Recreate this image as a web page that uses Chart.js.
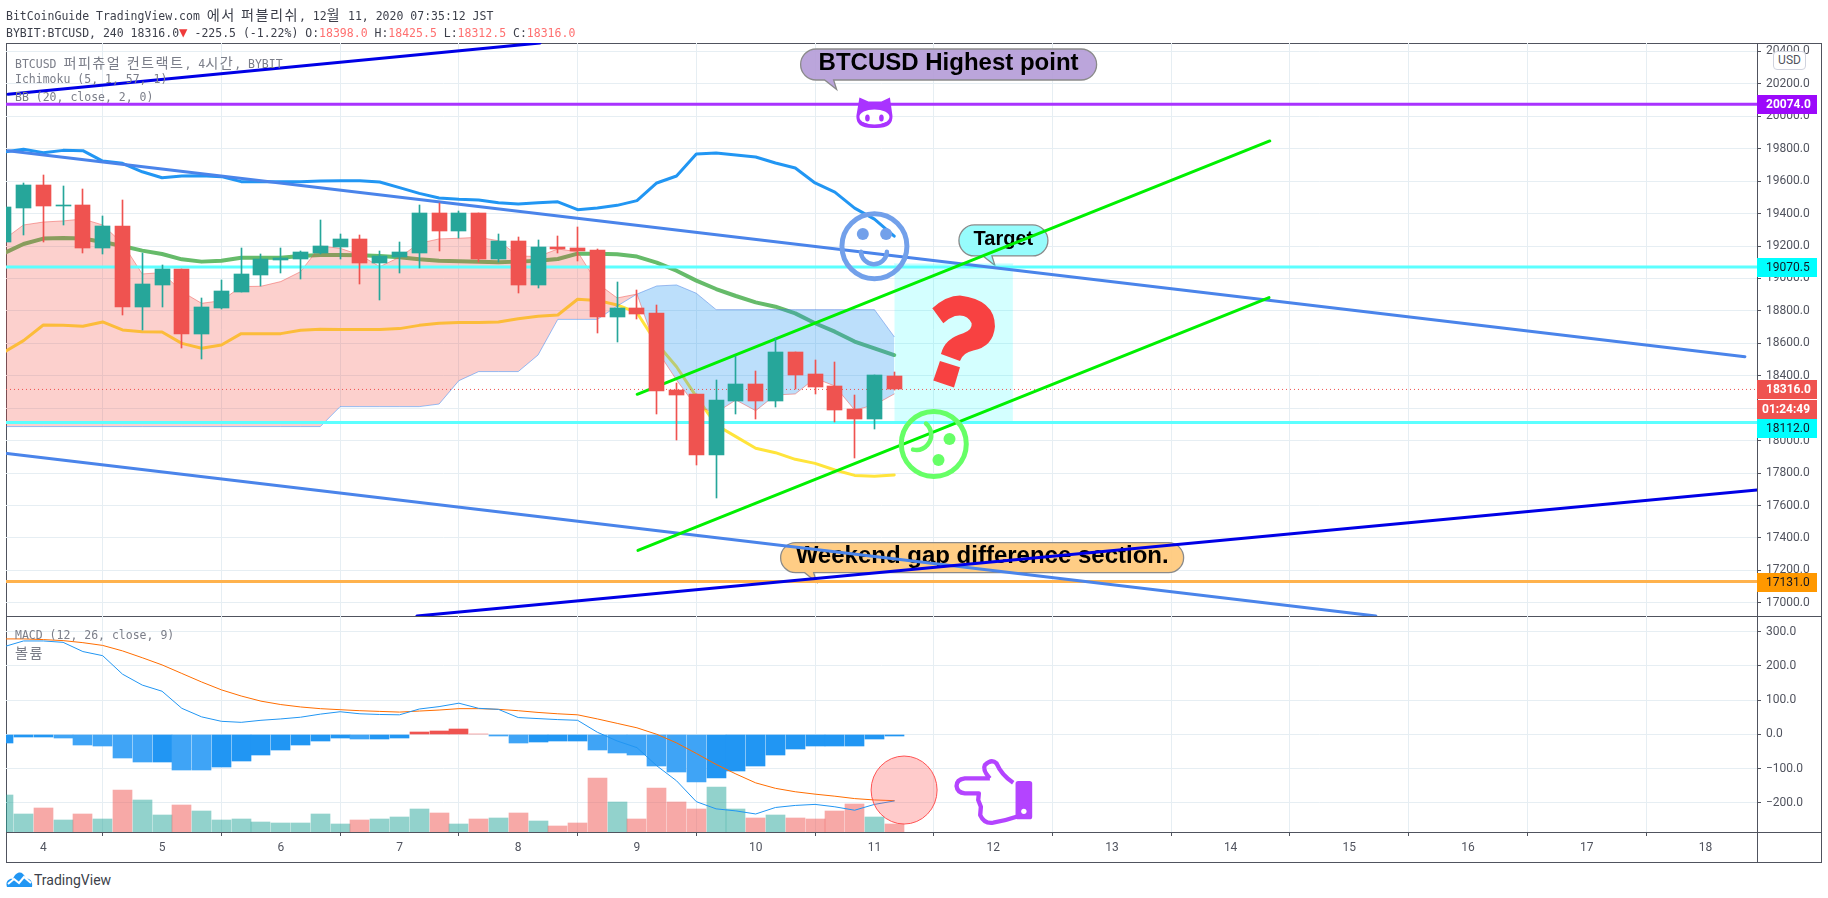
<!DOCTYPE html>
<html lang="ko">
<head>
<meta charset="utf-8">
<title>BTCUSD</title>
<script src="https://cdn.jsdelivr.net/npm/chart.js@4"></script>
<style>
  html, body { margin: 0; padding: 0; background: #fff; width: 1828px; height: 898px; overflow: hidden; }
  canvas { position: absolute; left: 0; }
  #priceCanvas { top: 0; }
  #macdCanvas { top: 616px; }
  .rule { position: absolute; background: #50535e; }
  .mono { position: absolute; font: 11.5px/14px "DejaVu Sans Mono", "Noto Sans CJK KR", monospace; white-space: pre; }
  .kr { font-family: "Noto Sans CJK KR"; font-size: 14.2px; line-height: 14px; letter-spacing: 1.4px; }
  .head { color: #3c3f4a; left: 6px; }
  .leg { color: #7b7e89; left: 15px; }
  .red { color: #ff7070; }
  #usd { position: absolute; left: 1773px; top: 51px; width: 31px; height: 17px; border: 1px solid #d0d3de; border-radius: 4px;
         background: #fff; font: 12px Roboto, sans-serif; color: #50535e; text-align: center; line-height: 17px; }
  #logo { position: absolute; left: 6px; top: 871px; }
  #brand { position: absolute; left: 34px; top: 872px; font: 14px Roboto, sans-serif; color: #3c3f4a; }
</style>
</head>
<body>
<div class="rule" style="left:6px;top:43px;width:1815px;height:1px"></div>
<div class="rule" style="left:6px;top:616px;width:1815px;height:1px"></div>
<div class="rule" style="left:6px;top:832px;width:1815px;height:1px"></div>
<div class="rule" style="left:6px;top:862px;width:1815px;height:1px"></div>
<div class="rule" style="left:6px;top:43px;width:1px;height:820px"></div>
<div class="rule" style="left:1757px;top:43px;width:1px;height:820px"></div>
<div class="rule" style="left:1821px;top:43px;width:1px;height:820px"></div>

<canvas id="priceCanvas" width="1828" height="617"></canvas>
<canvas id="macdCanvas" width="1828" height="250"></canvas>

<div class="mono head" style="top:7px">BitCoinGuide TradingView.com <span class="kr">에서 퍼블리쉬</span>, 12<span class="kr">월</span> 11, 2020 07:35:12 JST</div>
<div class="mono head" style="top:25px">BYBIT:BTCUSD, 240 18316.0<span style="color:#ef3b3b;font-size:14px">▼</span> -225.5 (-1.22%) O:<span class="red">18398.0</span> H:<span class="red">18425.5</span> L:<span class="red">18312.5</span> C:<span class="red">18316.0</span></div>
<div class="mono leg" style="top:55px">BTCUSD <span class="kr">퍼피츄얼 컨트랙트</span>, 4<span class="kr">시간</span>, BYBIT</div>
<div class="mono leg" style="top:72px">Ichimoku (5, 1, 57, 1)</div>
<div class="mono leg" style="top:90px">BB (20, close, 2, 0)</div>
<div class="mono leg" style="top:628px">MACD (12, 26, close, 9)</div>
<div class="mono leg" style="top:645px"><span class="kr">볼륨</span></div>
<div id="usd">USD</div>
<svg id="logo" width="27" height="17" viewBox="0 0 27 17">
  <path d="M1 16 C-1 11 3 7 7 8 C9 2 14 0 17 3 C19 5 20 7 20 8 C24 7 27 11 26 16 Z" fill="#2196f3"/>
  <path d="M2 13 L8 8 L13 12 L18 6 L25 12" fill="none" stroke="#fff" stroke-width="2"/>
</svg>
<div id="brand">TradingView</div>

<script>
// first candle sits two bars left of the "4" tick, one bar = 4 hours
const firstBar = -2;
const barsPerDay = 6;
const dayLabels = [4, 5, 6, 7, 8, 9, 10, 11, 12, 13, 14, 15, 16, 17, 18];

const candleOpen = [19227, 19437, 19577, 19449, 19453, 19190, 19324, 18826, 18960, 19059, 18660, 18820, 18919, 19022, 19116, 19120, 19157, 19194, 19244, 19096, 19135, 19157, 19404, 19295, 19404, 19120, 19231, 18960, 19194, 19188, 19176, 18763, 18818, 18787, 18313, 18288, 17912, 18245, 18350, 18245, 18547, 18411, 18337, 18195, 18134, 18398];
const candleHigh = [19460, 19587, 19638, 19570, 19552, 19385, 19484, 19155, 19083, 19059, 18880, 18991, 19188, 19151, 19188, 19170, 19361, 19274, 19268, 19170, 19225, 19453, 19468, 19416, 19404, 19274, 19254, 19237, 19262, 19317, 19182, 18978, 18929, 18837, 18356, 18288, 18374, 18522, 18430, 18633, 18547, 18498, 18485, 18282, 18405, 18425.5];
const candleLow = [19190, 19268, 19227, 19330, 19159, 19153, 18775, 18683, 18826, 18574, 18506, 18814, 18919, 18954, 19036, 18997, 19151, 19120, 18966, 18868, 19034, 19065, 19170, 19252, 19104, 19104, 18913, 18943, 19159, 19108, 18664, 18609, 18750, 18165, 18004, 17850, 17649, 18165, 18134, 18208, 18319, 18288, 18115, 17893, 18072, 18312.5];
const candleClose = [19441, 19577, 19449, 19452, 19190, 19324, 18826, 18966, 19059, 18660, 18824, 18923, 19028, 19120, 19128, 19163, 19200, 19244, 19096, 19141, 19163, 19404, 19293, 19404, 19120, 19231, 18960, 19194, 19182, 19170, 18763, 18818, 18781, 18306, 18282, 17912, 18251, 18350, 18245, 18547, 18405, 18331, 18189, 18134, 18405, 18316];

const cloudSpanA = [19240, 19330, 19348, 19355, 19367, 19330, 19217, 19028, 19036, 18919, 18847, 18863, 18950, 18952, 18981, 19042, 19200, 19186, 19145, 19073, 19131, 19217, 19244, 19248, 19254, 19233, 19139, 19135, 19182, 19165, 18970, 18880, 18904, 18559, 18374, 18210, 18173, 18251, 18185, 18282, 18288, 18385, 18337, 18189, 18220, 18288];
const cloudSpanB = [18087, 18087, 18087, 18087, 18087, 18087, 18087, 18087, 18087, 18087, 18087, 18087, 18087, 18087, 18087, 18087, 18087, 18210, 18210, 18210, 18210, 18210, 18226, 18370, 18426, 18426, 18426, 18528, 18748, 18748, 18748, 18830, 18904, 18954, 18960, 18909, 18808, 18808, 18808, 18808, 18808, 18808, 18808, 18808, 18808, 18641];

const bbUpper = [19780, 19797, 19776, 19790, 19788, 19724, 19710, 19658, 19621, 19632, 19634, 19628, 19597, 19597, 19597, 19597, 19601, 19603, 19603, 19595, 19560, 19525, 19496, 19488, 19484, 19467, 19459, 19467, 19473, 19424, 19435, 19451, 19480, 19589, 19632, 19768, 19774, 19761, 19749, 19712, 19681, 19589, 19533, 19434, 19366, 19261];
const bbMiddle = [19155, 19213, 19246, 19250, 19246, 19225, 19200, 19172, 19151, 19118, 19104, 19110, 19128, 19128, 19128, 19139, 19145, 19145, 19143, 19139, 19131, 19118, 19110, 19106, 19104, 19100, 19104, 19110, 19120, 19153, 19153, 19149, 19135, 19098, 19048, 18987, 18935, 18892, 18853, 18826, 18785, 18724, 18672, 18611, 18569, 18528];
const bbLower = [18545, 18617, 18713, 18711, 18705, 18732, 18683, 18672, 18670, 18600, 18570, 18590, 18660, 18660, 18660, 18681, 18687, 18685, 18685, 18685, 18691, 18711, 18724, 18728, 18728, 18732, 18752, 18767, 18775, 18872, 18865, 18837, 18789, 18600, 18456, 18272, 18097, 18025, 17953, 17926, 17885, 17860, 17819, 17786, 17780, 17789];

const macdLine = [256, 273, 273, 269, 242, 230, 176, 144, 126, 76, 51, 38, 35, 41, 45, 50, 59, 66, 60, 58, 57, 74, 81, 91, 76, 73, 49, 46, 43, 41, 6, -19.5, -39, -92, -136, -197, -218, -224, -233, -214, -208, -205, -212, -222, -205, -195];
const macdSignal = [279, 279, 277, 274, 268, 260, 244, 224, 203, 178, 153, 130, 112, 97, 87, 80, 75, 72, 69, 67, 65, 68, 71, 75, 75, 73, 69, 64, 60, 57, 45, 32, 19, 0, -25, -56, -88, -116, -142, -158, -168, -175, -181, -188, -192, -194];
const macdHist = [-25, -8, -8, -11, -31, -34, -69, -81, -81, -104, -105, -96, -78, -60, -46, -31, -20, -11, -14, -14, -11, 7, 10, 16, 2, -5, -25, -22, -20, -20, -46, -55, -60, -93, -110, -139, -128, -107, -93, -60, -43, -34, -34, -34, -14, -5];
const volumes = [37, 18, 24, 12, 18, 13, 42, 32, 17, 27, 21, 12, 13, 10, 9, 9, 18, 8, 12, 13, 15, 23, 19, 8, 13, 14, 19, 11, 6, 9, 54, 30, 13, 44, 30, 23, 45, 23, 14, 17, 14, 13, 21, 28, 15, 8];

// hand drawn trend lines, [bar, price] at both ends
const darkLines = [[[-1.78, 20136], [25.1, 20452]], [[18.88, 16919], [86.6, 17696]]];
const channelLines = [[[-1.78, 19788], [85.99, 18518]], [[-1.83, 17921], [67.34, 16919]]];
const greenLines = [[[30.01, 18286], [61.98, 19848]], [[30.05, 17323], [61.94, 18882]]];
const targetBox = { from: 43, to: 49, top: 19090, bottom: 18112 };

const levelPrices = [20074, 19070.5, 18112, 17131];
const levelColors = ['#a933ff', '#5cffff', '#5cffff', '#ffb24d'];
const lastPrice = 18316;

const tagPrices = [20074, 19070.5, 18316, 18316, 18112, 17131];
const tagTexts = ['20074.0', '19070.5', '18316.0', '01:24:49', '18112.0', '17131.0'];
const tagFills = ['#9c09fb', '#00ffff', '#ef5350', '#ef5350', '#00ffff', '#ff9800'];
const tagInk = ['#fff', '#131722', '#fff', '#fff', '#131722', '#131722'];
const tagShift = [0, 0, 0, 20, 5, 0];

const callouts = [
  { text: 'BTCUSD Highest point', bar: 38.27, price: 20415, w: 296, h: 31, fill: 'rgba(180,155,215,.9)', font: 'bold 24px "Liberation Sans"' },
  { text: 'Target', bar: 46.27, price: 19330, w: 89, h: 31, fill: 'rgba(140,252,252,.9)', font: 'bold 20px "Liberation Sans"' },
  { text: 'Weekend gap difference section.', bar: 37.26, price: 17371, w: 403, h: 30, fill: 'rgba(255,200,120,.9)', font: 'bold 24px "Liberation Sans"' }
];

const gridColor = '#e6eef3';
const axisColor = '#50535e';
const upColor = '#26a69a';
const downColor = '#ef5350';
const axisFont = { family: 'Roboto', size: 12 };

const bars = candleOpen.map((v, i) => i + firstBar);
const pts = arr => arr.map((v, i) => ({ x: bars[i], y: v }));
const isUp = i => candleClose[i] >= candleOpen[i];
const candleColors = bars.map((b, i) => isUp(i) ? upColor : downColor);

function lineSet(data, color, width, extra) {
  return Object.assign({
    type: 'line', data: data, borderColor: color, borderWidth: width,
    pointRadius: 0, tension: 0, fill: false, borderJoinStyle: 'round', borderCapStyle: 'round'
  }, extra || {});
}
function segment(ends) {
  return ends.map(e => ({ x: e[0], y: e[1] }));
}
// later in the list = drawn later
function stackOrder(list) {
  list.forEach((d, i) => { d.order = list.length - i; });
  return list;
}
// no room kept for the tick labels at the pane edges
function fitRight(s) {
  s.width = 64;
  s.paddingTop = 0;
  s.paddingBottom = 0;
}

const xScale = {
  type: 'linear', min: -1.885, max: 86.6, offset: false,
  afterBuildTicks: s => { s.ticks = dayLabels.map((d, i) => ({ value: i * barsPerDay })); },
  grid: { color: gridColor, tickColor: axisColor, tickLength: 4 },
  border: { display: false }
};

// x positions of the bars snapped to whole pixels so wicks stay sharp
const crispBars = {
  id: 'crispBars',
  afterDatasetsUpdate(chart) {
    chart.getSortedVisibleDatasetMetas().forEach(meta => {
      if (meta.type !== 'bar') return;
      meta.data.forEach(el => {
        el.x = Math.floor(el.x) + 0.5;
        el.y = Math.round(el.y);
        el.base = Math.round(el.base);
      });
    });
  }
};

function bubble(ctx, b, x, y) {
  const r = b.h / 2;
  ctx.beginPath();
  ctx.moveTo(x + r, y);
  ctx.lineTo(x + b.w - r, y);
  ctx.arc(x + b.w - r, y + r, r, -Math.PI / 2, Math.PI / 2);
  ctx.lineTo(x + 33, y + b.h);
  ctx.lineTo(x + 36, y + b.h + 9.5);
  ctx.lineTo(x + 24, y + b.h);
  ctx.lineTo(x + r, y + b.h);
  ctx.arc(x + r, y + r, r, Math.PI / 2, Math.PI * 1.5);
  ctx.closePath();
  ctx.fillStyle = b.fill;
  ctx.fill();
  ctx.lineWidth = 1.3;
  ctx.strokeStyle = '#8a8a8a';
  ctx.stroke();
  ctx.fillStyle = '#000';
  ctx.font = b.font;
  ctx.textAlign = 'center';
  ctx.textBaseline = 'middle';
  ctx.fillText(b.text, x + b.w / 2, y + r - 1);
}

const calloutLayer = {
  id: 'calloutLayer',
  beforeDatasetsDraw(chart) {
    const ctx = chart.ctx;
    ctx.save();
    callouts.forEach(b => bubble(ctx, b, chart.scales.x.getPixelForValue(b.bar), chart.scales.y.getPixelForValue(b.price)));
    ctx.restore();
  }
};

function smile(ctx, x, y, color) {
  ctx.strokeStyle = color;
  ctx.fillStyle = color;
  ctx.lineCap = 'round';
  ctx.lineWidth = 5;
  ctx.beginPath();
  ctx.arc(x, y, 32.5, 0, Math.PI * 2);
  ctx.stroke();
}

function drawBlueFace(ctx, x, y) {
  const c = '#72a0ea';
  smile(ctx, x, y, c);
  ctx.beginPath(); ctx.arc(x - 11.6, y - 12.3, 6, 0, Math.PI * 2); ctx.fill();
  ctx.beginPath(); ctx.arc(x + 11.7, y - 12.3, 6, 0, Math.PI * 2); ctx.fill();
  ctx.lineWidth = 4.5;
  ctx.beginPath(); ctx.arc(x - 0.5, y + 5, 13, 0.05, Math.PI - 0.05); ctx.stroke();
}

function drawGreenFace(ctx, x, y) {
  const c = '#66ff66';
  smile(ctx, x, y, c);
  ctx.beginPath(); ctx.arc(x + 15.7, y - 5, 6, 0, Math.PI * 2); ctx.fill();
  ctx.beginPath(); ctx.arc(x + 4.7, y + 16, 6, 0, Math.PI * 2); ctx.fill();
  ctx.lineWidth = 4.5;
  ctx.beginPath(); ctx.arc(x - 17.6, y - 9, 15, -0.86, 1.78); ctx.stroke();
}

function drawQuestion(ctx, x, y) {
  ctx.save();
  ctx.translate(x, y);
  ctx.scale(1 / 3, 1 / 3);
  ctx.fillStyle = '#f84141';
  ctx.beginPath();
  ctx.moveTo(157, 85);
  ctx.quadraticCurveTo(200, 47, 240, 47);
  ctx.quadraticCurveTo(345, 60, 345, 140);
  ctx.quadraticCurveTo(340, 200, 280, 212);
  ctx.quadraticCurveTo(250, 218, 240, 243);
  ctx.lineTo(183, 222);
  ctx.quadraticCurveTo(195, 175, 250, 160);
  ctx.quadraticCurveTo(278, 150, 275, 130);
  ctx.quadraticCurveTo(262, 100, 225, 108);
  ctx.quadraticCurveTo(205, 115, 190, 130);
  ctx.closePath();
  ctx.fill();
  ctx.beginPath();
  ctx.moveTo(180, 243);
  ctx.lineTo(240, 262);
  ctx.lineTo(222, 323);
  ctx.lineTo(160, 302);
  ctx.closePath();
  ctx.fill();
  ctx.restore();
}

function drawCat(ctx, x, y) {
  const c = '#a933ff';
  ctx.save();
  ctx.translate(x, y);
  ctx.fillStyle = c;
  ctx.beginPath();
  ctx.moveTo(-18, 2);
  ctx.lineTo(-15, -16);
  ctx.lineTo(-6, -12);
  ctx.lineTo(7, -12);
  ctx.lineTo(15.5, -16);
  ctx.lineTo(18, 2);
  ctx.quadraticCurveTo(19, 14.5, 2, 14.5);
  ctx.lineTo(-2, 14.5);
  ctx.quadraticCurveTo(-19, 14.5, -18, 2);
  ctx.closePath();
  ctx.fill();
  ctx.fillStyle = '#fff';
  ctx.beginPath();
  ctx.ellipse(0, 3.5, 15, 7.5, 0, 0, Math.PI * 2);
  ctx.fill();
  ctx.fillStyle = c;
  ctx.beginPath(); ctx.ellipse(-7, 4.5, 2.3, 3.5, 0, 0, Math.PI * 2); ctx.fill();
  ctx.beginPath(); ctx.ellipse(7, 4.5, 2.3, 3.5, 0, 0, Math.PI * 2); ctx.fill();
  ctx.restore();
}

const priceIcons = {
  id: 'priceIcons',
  afterDatasetsDraw(chart) {
    const ctx = chart.ctx, sx = chart.scales.x, sy = chart.scales.y;
    ctx.save();
    drawCat(ctx, sx.getPixelForValue(42), sy.getPixelForValue(20018));
    drawBlueFace(ctx, sx.getPixelForValue(42), sy.getPixelForValue(19199));
    drawGreenFace(ctx, sx.getPixelForValue(45), sy.getPixelForValue(17980));
    drawQuestion(ctx, sx.getPixelForValue(42.28), sy.getPixelForValue(18991));
    ctx.restore();
  },
  afterDraw(chart) {
    const ctx = chart.ctx, sy = chart.scales.y;
    ctx.save();
    ctx.textAlign = 'left';
    ctx.textBaseline = 'middle';
    tagPrices.forEach((p, i) => {
      const y = Math.round(sy.getPixelForValue(p)) + tagShift[i];
      ctx.fillStyle = tagFills[i];
      ctx.fillRect(1757, y - 9, 60, 19);
      ctx.fillStyle = tagInk[i];
      ctx.font = (tagInk[i] === '#fff' ? 'bold ' : '') + '12px Roboto';
      ctx.fillText(tagTexts[i], i === 3 ? 1762 : 1766, y + 1);
    });
    ctx.restore();
  }
};

const priceChart = new Chart(document.getElementById('priceCanvas'), {
  type: 'bar',
  data: {
    datasets: stackOrder([
      lineSet(pts(bbUpper), '#2196f3', 3),
      lineSet(pts(bbMiddle), '#66bb6a', 4),
      lineSet(pts(bbLower), '#ffe43b', 3),
      lineSet(pts(cloudSpanB), 'rgba(33,120,243,.45)', 1),
      lineSet(pts(cloudSpanA), 'rgba(239,83,80,.5)', 1, {
        fill: { target: 3, above: 'rgba(244,67,54,.25)', below: 'rgba(33,150,243,.3)' }
      }),
      lineSet([{ x: targetBox.from, y: targetBox.top }, { x: targetBox.to, y: targetBox.top }], 'rgba(0,255,255,.2)', 1, {
        fill: { value: targetBox.bottom, above: 'rgba(0,255,255,.17)' }
      }),
      ...levelPrices.map((p, i) => lineSet([{ x: -1.885, y: p }, { x: 86.6, y: p }], levelColors[i], 3)),
      lineSet([{ x: -1.885, y: lastPrice }, { x: 86.6, y: lastPrice }], downColor, 1, { borderDash: [1, 3], borderCapStyle: 'butt' }),
      ...channelLines.map(s => lineSet(segment(s), '#4a84ea', 3)),
      ...darkLines.map(s => lineSet(segment(s), '#0000e6', 3)),
      ...greenLines.map(s => lineSet(segment(s), '#00f000', 3)),
      { data: bars.map((b, i) => ({ x: b, y: [candleLow[i], candleHigh[i]] })), backgroundColor: candleColors, barThickness: 1, minBarLength: 1, grouped: false },
      { data: bars.map((b, i) => ({ x: b, y: [candleOpen[i], candleClose[i]] })), backgroundColor: candleColors, barThickness: 15, minBarLength: 1, grouped: false }
    ])
  },
  options: {
    responsive: false,
    animation: false,
    events: [],
    layout: { padding: { left: 6, top: 43, right: 7, bottom: 1 } },
    plugins: { legend: { display: false }, tooltip: { enabled: false }, filler: { drawTime: 'beforeDatasetDraw' } },
    scales: {
      x: Object.assign({}, xScale, {
        ticks: { display: false },
        grid: { color: gridColor, drawTicks: false },
        afterFit: s => { s.height = 0; }
      }),
      y: {
        position: 'right', min: 16919, max: 20452,
        afterFit: fitRight,
        grid: { color: gridColor, tickColor: axisColor, tickLength: 4 },
        border: { display: false },
        ticks: {
          stepSize: 200, includeBounds: false, padding: 5, color: axisColor, font: axisFont,
          callback: v => v.toFixed(1)
        }
      }
    }
  },
  plugins: [crispBars, calloutLayer, priceIcons]
});

function drawHand(ctx, x, y) {
  const c = '#b444ff';
  ctx.save();
  ctx.translate(x, y);
  ctx.scale(1 / 3, 1 / 3);
  ctx.strokeStyle = c;
  ctx.fillStyle = c;
  ctx.lineWidth = 13;
  ctx.lineJoin = 'round';
  ctx.beginPath();
  ctx.moveTo(135, 85);
  ctx.lineTo(60, 85);
  ctx.quadraticCurveTo(35, 88, 35, 108);
  ctx.quadraticCurveTo(37, 128, 60, 130);
  ctx.lineTo(102, 130);
  ctx.lineTo(100, 150);
  ctx.lineTo(108, 170);
  ctx.lineTo(106, 195);
  ctx.quadraticCurveTo(118, 222, 145, 218);
  ctx.quadraticCurveTo(180, 212, 215, 200);
  ctx.moveTo(135, 85);
  ctx.quadraticCurveTo(112, 60, 120, 45);
  ctx.quadraticCurveTo(140, 25, 155, 40);
  ctx.quadraticCurveTo(170, 75, 205, 98);
  ctx.stroke();
  ctx.beginPath();
  ctx.roundRect(212, 93, 50, 115, 8);
  ctx.fill();
  ctx.fillStyle = '#fff';
  ctx.beginPath();
  ctx.arc(237, 184, 8, 0, Math.PI * 2);
  ctx.fill();
  ctx.restore();
}

const macdIcons = {
  id: 'macdIcons',
  afterDatasetsDraw(chart) {
    const ctx = chart.ctx, sx = chart.scales.x, sy = chart.scales.y;
    ctx.save();
    ctx.beginPath();
    ctx.ellipse(sx.getPixelForValue(43.5), sy.getPixelForValue(-163), 33, 34, 0, 0, Math.PI * 2);
    ctx.fillStyle = 'rgba(255,82,82,.3)';
    ctx.fill();
    ctx.lineWidth = 1;
    ctx.strokeStyle = '#ff5252';
    ctx.stroke();
    drawHand(ctx, sx.getPixelForValue(45.56), sy.getPixelForValue(-46));
    ctx.restore();
  }
};

const histColors = macdHist.map((v, i) => {
  const falling = i > 0 && v < macdHist[i - 1];
  if (v >= 0) return falling ? '#f47f7c' : '#ef5350';
  return falling ? '#3fa4f6' : '#2196f3';
});

const macdChart = new Chart(document.getElementById('macdCanvas'), {
  type: 'bar',
  data: {
    datasets: stackOrder([
      { data: bars.map((b, i) => ({ x: b, y: volumes[i] })), yAxisID: 'vol', backgroundColor: bars.map((b, i) => isUp(i) ? 'rgba(38,166,154,.5)' : 'rgba(239,83,80,.5)'), barThickness: 19, grouped: false },
      { data: bars.map((b, i) => ({ x: b, y: macdHist[i] })), backgroundColor: histColors, barThickness: 19, grouped: false },
      lineSet(pts(macdSignal), '#ff6d00', 1),
      lineSet(pts(macdLine), '#2196f3', 1)
    ])
  },
  options: {
    responsive: false,
    animation: false,
    events: [],
    layout: { padding: { left: 6, top: 0, right: 7, bottom: 4 } },
    plugins: { legend: { display: false }, tooltip: { enabled: false } },
    scales: {
      x: Object.assign({}, xScale, {
        afterFit: s => { s.height = 30; },
        ticks: {
          autoSkip: false, maxRotation: 0, padding: 5, color: axisColor, font: axisFont,
          callback: (v, i) => String(dayLabels[i])
        }
      }),
      y: {
        position: 'right', min: -285.7, max: 346,
        afterFit: fitRight,
        grid: { color: gridColor, tickColor: axisColor, tickLength: 4 },
        border: { display: false },
        ticks: {
          stepSize: 100, includeBounds: false, padding: 5, color: axisColor, font: axisFont,
          callback: v => v.toFixed(1).replace('-', '\u2212')
        }
      },
      vol: { display: false, min: 0, max: 216 }
    }
  },
  plugins: [crispBars, macdIcons]
});
</script>
</body>
</html>
